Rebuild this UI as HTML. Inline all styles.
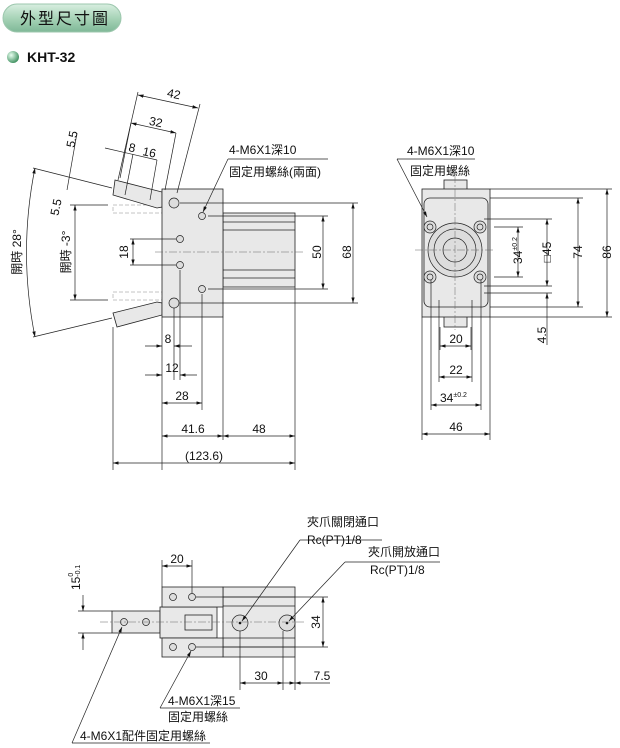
<!DOCTYPE html>
<html><head><meta charset="utf-8"><style>
body{margin:0;background:#fff;}
svg{display:block;font-family:"Liberation Sans","Noto Sans CJK TC",sans-serif;}
.t{font-size:12px;fill:#111}
.l{stroke:#222;stroke-width:0.7;fill:none}
.c{stroke:#666;stroke-width:0.5;fill:none;stroke-dasharray:8 2 2 2}
.d{stroke:#888;stroke-width:0.5;fill:none;stroke-dasharray:4 2}
.b{fill:#e8e8e8;stroke:#222;stroke-width:0.8}
.h{fill:#ddd;stroke:#222;stroke-width:0.7}
</style></head><body>
<svg width="620" height="748" viewBox="0 0 620 748">
<defs>
<marker id="a" viewBox="0 0 10 6" refX="10" refY="3" markerWidth="8" markerHeight="5" orient="auto-start-reverse"><path d="M0,0L10,3L0,6z" fill="#111"/></marker>
<linearGradient id="g" x1="0" y1="0" x2="0" y2="1"><stop offset="0" stop-color="#d8eee0"/><stop offset="0.5" stop-color="#a8d4b8"/><stop offset="1" stop-color="#7fb897"/></linearGradient>
<radialGradient id="bl" cx="0.35" cy="0.35" r="0.7"><stop offset="0" stop-color="#e8fff0"/><stop offset="1" stop-color="#3d8f5e"/></radialGradient>
</defs>
<rect x="3" y="4" width="118" height="28" rx="14" fill="url(#g)" stroke="#9cc7ad"/>
<text x="20" y="24" font-size="16" fill="#111" letter-spacing="2">外型尺寸圖</text>
<circle cx="13" cy="57" r="6" fill="url(#bl)"/>
<text x="27" y="62" font-size="14" font-weight="bold" fill="#111">KHT-32</text>

<!-- FRONT VIEW -->
<rect class="d" x="113" y="205" width="49" height="8"/>
<rect class="d" x="113" y="292" width="49" height="8"/>
<polygon class="b" points="115,180 162,192 162,207 157,208 113,195"/>
<polygon class="b" points="113,313 157,302 162,303 162,315 117,327"/>
<rect class="b" x="223" y="213" width="72" height="74"/>
<g class="l" stroke-width="0.4"><line x1="223" y1="222" x2="295" y2="222"/><line x1="223" y1="230" x2="295" y2="230"/><line x1="223" y1="270" x2="295" y2="270"/><line x1="223" y1="278" x2="295" y2="278"/></g>
<rect class="b" x="162" y="189" width="61" height="128"/>
<circle class="h" cx="174" cy="203" r="5"/><circle class="h" cx="174" cy="303" r="5"/>
<circle class="h" cx="202" cy="216" r="3.5"/><circle class="h" cx="180" cy="239" r="3.5"/>
<circle class="h" cx="180" cy="265" r="3.5"/><circle class="h" cx="202" cy="289" r="3.5"/>
<line class="c" x1="155" y1="252" x2="305" y2="252"/>
<g class="l">
<line x1="180" y1="203" x2="358" y2="203"/><line x1="180" y1="303" x2="358" y2="303"/>
<line x1="208" y1="216" x2="328" y2="216"/><line x1="208" y1="289" x2="328" y2="289"/>
<line x1="353" y1="203" x2="353" y2="303" marker-start="url(#a)" marker-end="url(#a)"/>
<line x1="323" y1="216" x2="323" y2="289" marker-start="url(#a)" marker-end="url(#a)"/>
<line x1="130" y1="239" x2="176" y2="239"/><line x1="130" y1="265" x2="176" y2="265"/>
<line x1="133" y1="239" x2="133" y2="265" marker-start="url(#a)" marker-end="url(#a)"/>
<line x1="70" y1="205" x2="108" y2="205"/><line x1="70" y1="300" x2="108" y2="300"/>
<line x1="75" y1="205" x2="75" y2="300" marker-start="url(#a)" marker-end="url(#a)"/>
<path d="M35,168 Q18,252 35,337" marker-start="url(#a)" marker-end="url(#a)"/>
<line x1="33" y1="168" x2="112" y2="188"/><line x1="33" y1="337" x2="112" y2="318"/>
<line x1="162" y1="317" x2="162" y2="470"/><line x1="174" y1="308" x2="174" y2="380"/><line x1="180" y1="270" x2="180" y2="380"/>
<line x1="202" y1="294" x2="202" y2="410"/><line x1="223" y1="317" x2="223" y2="440"/><line x1="295" y1="287" x2="295" y2="470"/>
<line x1="113" y1="327" x2="113" y2="470"/>
<line x1="145" y1="346" x2="162" y2="346" marker-end="url(#a)"/><line x1="192" y1="346" x2="174" y2="346" marker-end="url(#a)"/>
<line x1="145" y1="375" x2="162" y2="375" marker-end="url(#a)"/><line x1="197" y1="375" x2="180" y2="375" marker-end="url(#a)"/>
<line x1="162" y1="403" x2="202" y2="403" marker-start="url(#a)" marker-end="url(#a)"/>
<line x1="162" y1="436" x2="223" y2="436" marker-start="url(#a)" marker-end="url(#a)"/>
<line x1="223" y1="436" x2="295" y2="436" marker-start="url(#a)" marker-end="url(#a)"/>
<line x1="113" y1="463" x2="295" y2="463" marker-start="url(#a)" marker-end="url(#a)"/>
<line x1="138" y1="92" x2="118" y2="180"/><line x1="200" y1="104" x2="177" y2="193"/>
<line x1="138" y1="95" x2="198" y2="108" marker-start="url(#a)" marker-end="url(#a)"/>
<line x1="131" y1="123" x2="176" y2="133" marker-start="url(#a)" marker-end="url(#a)"/>
<line x1="176" y1="133" x2="165" y2="190"/><line x1="131" y1="123" x2="120" y2="178"/>
<line x1="105" y1="148" x2="157" y2="160"/><line x1="133" y1="154" x2="125" y2="195"/><line x1="157" y1="160" x2="150" y2="200"/>
<line x1="77" y1="133" x2="67" y2="190"/>
<line x1="228" y1="159" x2="328" y2="159"/><line x1="228" y1="159" x2="203" y2="212" marker-end="url(#a)"/>
</g>
<g class="t">
<text x="173" y="98" transform="rotate(12 173 98)" text-anchor="middle">42</text>
<text x="155" y="126" transform="rotate(12 155 126)" text-anchor="middle">32</text>
<text x="128" y="151" transform="rotate(12 128 151)">8</text>
<text x="142" y="155" transform="rotate(12 142 155)">16</text>
<text x="76" y="140" transform="rotate(-78 76 140)" text-anchor="middle">5.5</text>
<text x="60" y="208" transform="rotate(-78 60 208)" text-anchor="middle">5.5</text>
<text x="21" y="252" transform="rotate(-90 21 252)" text-anchor="middle">開時 28°</text>
<text x="70" y="252" transform="rotate(-90 70 252)" text-anchor="middle">開時 -3°</text>
<text x="128" y="252" transform="rotate(-90 128 252)" text-anchor="middle">18</text>
<text x="321" y="252" transform="rotate(-90 321 252)" text-anchor="middle">50</text>
<text x="351" y="252" transform="rotate(-90 351 252)" text-anchor="middle">68</text>
<text x="168" y="343" text-anchor="middle">8</text>
<text x="172" y="372" text-anchor="middle">12</text>
<text x="182" y="400" text-anchor="middle">28</text>
<text x="193" y="433" text-anchor="middle">41.6</text>
<text x="259" y="433" text-anchor="middle">48</text>
<text x="204" y="460" text-anchor="middle">(123.6)</text>
<text x="229" y="154">4-M6X1深10</text>
<text x="229" y="176">固定用螺絲(兩面)</text>
</g>

<!-- SIDE VIEW -->
<rect class="b" x="444" y="180" width="23" height="147"/>
<rect class="b" x="422" y="189" width="68" height="128"/>
<rect class="b" x="424" y="198" width="64" height="109" rx="6"/>
<circle class="h" cx="455" cy="250" r="27"/><circle class="h" cx="455" cy="250" r="21" fill="#eee"/><circle class="h" cx="455" cy="250" r="12"/>
<circle class="h" cx="430" cy="227" r="6"/><circle class="h" cx="480" cy="227" r="6"/><circle class="h" cx="430" cy="277" r="6"/><circle class="h" cx="480" cy="277" r="6"/>
<circle class="h" cx="430" cy="227" r="3"/><circle class="h" cx="480" cy="227" r="3"/><circle class="h" cx="430" cy="277" r="3"/><circle class="h" cx="480" cy="277" r="3"/>
<line class="c" x1="415" y1="250" x2="495" y2="250"/><line class="c" x1="455" y1="175" x2="455" y2="330"/>
<g class="l">
<line x1="490" y1="189" x2="612" y2="189"/><line x1="490" y1="317" x2="612" y2="317"/>
<line x1="490" y1="198" x2="583" y2="198"/><line x1="490" y1="307" x2="583" y2="307"/>
<line x1="607" y1="189" x2="607" y2="317" marker-start="url(#a)" marker-end="url(#a)"/>
<line x1="578" y1="198" x2="578" y2="307" marker-start="url(#a)" marker-end="url(#a)"/>
<line x1="484" y1="219" x2="552" y2="219"/><line x1="484" y1="286" x2="552" y2="286"/><line x1="484" y1="293" x2="552" y2="293"/>
<line x1="547" y1="219" x2="547" y2="286" marker-start="url(#a)" marker-end="url(#a)"/>
<line x1="547" y1="293" x2="547" y2="345" marker-start="url(#a)"/>
<line x1="494" y1="227" x2="523" y2="227"/><line x1="494" y1="277" x2="523" y2="277"/>
<line x1="518" y1="227" x2="518" y2="277" marker-start="url(#a)" marker-end="url(#a)"/>
<line x1="422" y1="317" x2="422" y2="440"/><line x1="490" y1="317" x2="490" y2="440"/>
<line x1="431" y1="280" x2="431" y2="410"/><line x1="481" y1="280" x2="481" y2="410"/>
<line x1="439" y1="300" x2="439" y2="382"/><line x1="472" y1="300" x2="472" y2="382"/>
<line x1="440" y1="327" x2="440" y2="350"/><line x1="471" y1="327" x2="471" y2="350"/>
<line x1="440" y1="346" x2="471" y2="346" marker-start="url(#a)" marker-end="url(#a)"/>
<line x1="439" y1="377" x2="472" y2="377" marker-start="url(#a)" marker-end="url(#a)"/>
<line x1="431" y1="405" x2="481" y2="405" marker-start="url(#a)" marker-end="url(#a)"/>
<line x1="422" y1="434" x2="490" y2="434" marker-start="url(#a)" marker-end="url(#a)"/>
<line x1="397" y1="159" x2="475" y2="159"/><line x1="397" y1="159" x2="427" y2="217" marker-end="url(#a)"/>
</g>
<g class="t">
<text x="407" y="155">4-M6X1深10</text><text x="410" y="175">固定用螺絲</text>
<text x="611" y="252" transform="rotate(-90 611 252)" text-anchor="middle">86</text>
<text x="582" y="252" transform="rotate(-90 582 252)" text-anchor="middle">74</text>
<text x="551" y="252" transform="rotate(-90 551 252)" text-anchor="middle">□45</text>
<text x="522" y="264" transform="rotate(-90 522 264)">34<tspan font-size="7" dy="-5">±0.2</tspan></text>
<text x="546" y="335" transform="rotate(-90 546 335)" text-anchor="middle">4.5</text>
<text x="456" y="343" text-anchor="middle">20</text>
<text x="456" y="374" text-anchor="middle">22</text>
<text x="440" y="402">34<tspan font-size="7" dy="-5">±0.2</tspan></text>
<text x="456" y="431" text-anchor="middle">46</text>
</g>

<!-- BOTTOM VIEW -->
<rect class="b" x="223" y="587" width="72" height="70"/>
<g class="l" stroke-width="0.4"><line x1="223" y1="597" x2="295" y2="597"/><line x1="223" y1="606" x2="295" y2="606"/><line x1="223" y1="638" x2="295" y2="638"/><line x1="223" y1="647" x2="295" y2="647"/></g>
<rect class="b" x="112" y="611" width="48" height="22"/>
<rect class="b" x="160" y="607" width="57" height="31"/>
<rect class="b" x="185" y="615" width="27" height="15"/>
<rect class="b" x="162" y="587" width="61" height="20"/>
<rect class="b" x="162" y="638" width="61" height="19"/>
<circle class="h" cx="173" cy="597" r="3.5"/><circle class="h" cx="192" cy="597" r="3.5"/>
<circle class="h" cx="173" cy="647" r="3.5"/><circle class="h" cx="192" cy="647" r="3.5"/>
<circle class="h" cx="124" cy="622" r="3.5"/><circle class="h" cx="146" cy="622" r="3.5"/>
<circle class="h" cx="240" cy="623" r="8"/><circle class="h" cx="287" cy="623" r="8"/>
<circle cx="240" cy="623" r="1.3" fill="#111"/><circle cx="287" cy="623" r="1.3" fill="#111"/>
<line class="c" x1="100" y1="622" x2="305" y2="622"/>
<g class="l">
<line x1="162" y1="560" x2="162" y2="587"/><line x1="192" y1="560" x2="192" y2="593"/>
<line x1="162" y1="566" x2="192" y2="566" marker-start="url(#a)" marker-end="url(#a)"/>
<line x1="78" y1="611" x2="112" y2="611"/><line x1="78" y1="633" x2="112" y2="633"/>
<line x1="83" y1="595" x2="83" y2="611" marker-end="url(#a)"/><line x1="83" y1="650" x2="83" y2="633" marker-end="url(#a)"/>
<line x1="196" y1="597" x2="328" y2="597"/><line x1="196" y1="647" x2="328" y2="647"/>
<line x1="323" y1="597" x2="323" y2="647" marker-start="url(#a)" marker-end="url(#a)"/>
<line x1="240" y1="631" x2="240" y2="690"/><line x1="283" y1="631" x2="283" y2="690"/><line x1="295" y1="657" x2="295" y2="690"/>
<line x1="240" y1="683" x2="283" y2="683" marker-start="url(#a)" marker-end="url(#a)"/>
<line x1="283" y1="683" x2="295" y2="683" marker-end="url(#a)"/><line x1="330" y1="683" x2="295" y2="683" marker-end="url(#a)"/>
<line x1="300" y1="540" x2="382" y2="540"/><line x1="300" y1="540" x2="242" y2="621" marker-end="url(#a)"/>
<line x1="345" y1="562" x2="440" y2="562"/><line x1="345" y1="562" x2="289" y2="621" marker-end="url(#a)"/>
<line x1="160" y1="708" x2="240" y2="708"/><line x1="160" y1="708" x2="191" y2="651" marker-end="url(#a)"/>
<line x1="72" y1="743" x2="210" y2="743"/><line x1="72" y1="743" x2="122" y2="627" marker-end="url(#a)"/>
</g>
<g class="t">
<text x="177" y="563" text-anchor="middle">20</text>
<text x="80" y="590" transform="rotate(-90 80 590)">15<tspan font-size="7" dy="-7">0</tspan><tspan font-size="7" dx="-4" dy="7">-0.1</tspan></text>
<text x="320" y="622" transform="rotate(-90 320 622)" text-anchor="middle">34</text>
<text x="261" y="680" text-anchor="middle">30</text>
<text x="322" y="680" text-anchor="middle">7.5</text>
<text x="307" y="526">夾爪關閉通口</text><text x="307" y="544">Rc(PT)1/8</text>
<text x="368" y="556">夾爪開放通口</text><text x="370" y="574">Rc(PT)1/8</text>
<text x="168" y="705">4-M6X1深15</text><text x="168" y="721">固定用螺絲</text>
<text x="80" y="740">4-M6X1配件固定用螺絲</text>
</g>
</svg>
</body></html>
